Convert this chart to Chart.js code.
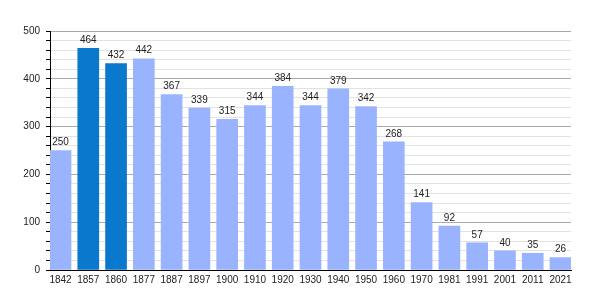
<!DOCTYPE html>
<html>
<head>
<meta charset="utf-8">
<script src="https://cdn.jsdelivr.net/npm/chart.js@4/dist/chart.umd.min.js"></script>
<style>
  html, body { margin: 0; padding: 0; background: #fff; }
  #wrap { width: 600px; height: 300px; }
</style>
</head>
<body>
<div id="wrap"><canvas id="chart"></canvas></div>
<script>
// census years and population
const years = ['1842', '1857', '1860', '1877', '1887', '1897', '1900', '1910', '1920', '1930',
               '1940', '1950', '1960', '1970', '1981', '1991', '2001', '2011', '2021'];
const population = [250, 464, 432, 442, 367, 339, 315, 344, 384, 344,
                    379, 342, 268, 141, 92, 57, 40, 35, 26];
const highlighted = ['1857', '1860'];
const yMax = 500;

const FONT = { family: '"Liberation Sans", Arial, sans-serif', size: 10 };
const TEXT = '#222';
const BAR_W = 21;

// numbers above the bars
const valueLabels = {
    id: 'valueLabels',
    afterDatasetsDraw(chart) {
        const ctx = chart.ctx;
        const meta = chart.getDatasetMeta(0);
        ctx.save();
        ctx.font = `${FONT.size}px ${FONT.family}`;
        ctx.fillStyle = TEXT;
        ctx.textAlign = 'center';
        ctx.textBaseline = 'bottom';
        meta.data.forEach((bar, i) => {
            ctx.fillText(population[i], bar.x, bar.y - 3);
        });
        ctx.restore();
    }
};

// half a bar, in x-axis units, so bars sit right on the axes
const half = 0.378;

new Chart(document.getElementById('chart'), {
    type: 'bar',
    data: {
        datasets: [{
            data: population.map((v, i) => ({ x: i, y: v })),
            backgroundColor: ctx => highlighted.includes(years[ctx.dataIndex]) ? '#0a78cc' : '#99b3ff',
            barThickness: BAR_W,
            borderWidth: 0
        }]
    },
    options: {
        responsive: true,
        maintainAspectRatio: false,
        animation: false,
        layout: { padding: { top: 31, right: 29, left: 0, bottom: 0 } },
        plugins: { legend: { display: false }, tooltip: { enabled: false } },
        scales: {
            x: {
                type: 'linear',
                offset: false,
                min: -half,
                max: years.length - 1 + half,
                grid: { display: false, drawTicks: false, offset: false },
                border: { display: true, color: '#000', width: 1 },
                ticks: {
                    stepSize: 1,
                    includeBounds: false,
                    autoSkip: false,
                    maxRotation: 0,
                    padding: 4,
                    color: TEXT,
                    font: FONT,
                    callback: v => years[v] ?? ''
                },
                afterFit: s => { s.height = 30; }
            },
            y: {
                min: 0,
                max: yMax,
                grid: {
                    color: c => c.tick.value % 100 === 0 ? '#aaaaaa' : '#e2e2e2',
                    tickColor: '#000',
                    tickLength: 4
                },
                border: { display: true, color: '#000', width: 1 },
                ticks: {
                    stepSize: 20,
                    autoSkip: false,
                    padding: 6,
                    color: TEXT,
                    font: FONT,
                    callback: v => v % 100 === 0 ? v : ''
                },
                afterFit: s => { s.width = 50; }
            }
        }
    },
    plugins: [valueLabels]
});
</script>
</body>
</html>
